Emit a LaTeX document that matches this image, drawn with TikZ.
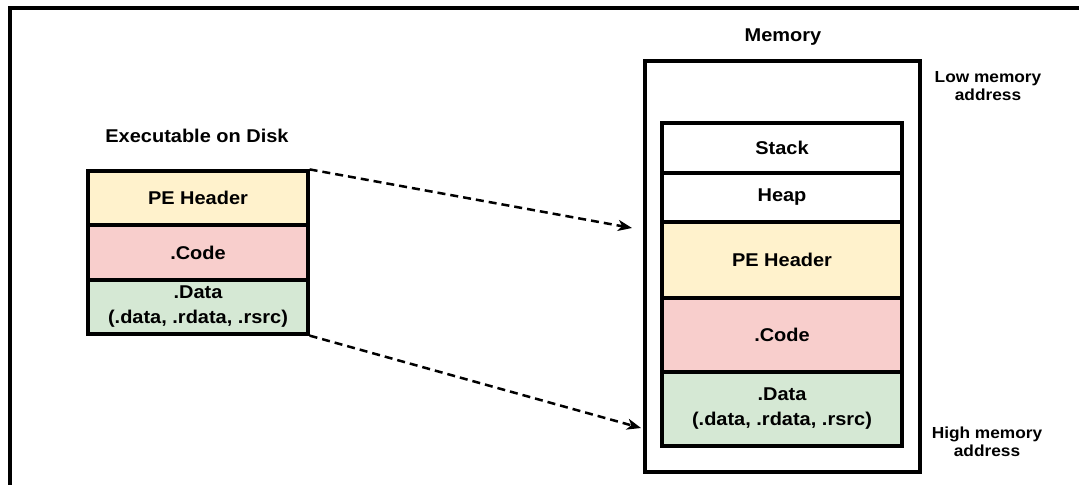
\documentclass[tikz,border=0pt]{standalone}
\usepackage{fontspec}
\setmainfont{Liberation Sans}[FakeStretch=1.08]
\usetikzlibrary{arrows.meta}
\definecolor{peyellow}{HTML}{FFF2CC}
\definecolor{codered}{HTML}{F8CECC}
\definecolor{datagreen}{HTML}{D5E8D4}
\tikzset{
  seg/.style={draw=black, line width=3.2pt, rectangle, inner sep=0pt,
    font=\fontsize{18.5}{25}\selectfont\bfseries, align=center},
  titletxt/.style={font=\fontsize{18.5}{25}\selectfont\bfseries, align=center},
  sidetxt/.style={font=\fontsize{16}{18.5}\selectfont\bfseries, align=center},
  dasharrow/.style={line width=2.5pt, dash pattern=on 8pt off 5pt,
    -{Stealth[length=14pt,width=11pt,inset=4pt]}}
}
\begin{document}
\begin{tikzpicture}[x=1pt,y=-1pt]
\useasboundingbox (0,0) rectangle (1079,485);
% cropped outer frame
\draw[line width=3.5pt] (1079,8) -- (10,8) -- (10,485);

% left: executable on disk
\node[titletxt] (disktitle) at (197,136) {Executable on Disk};
\node[seg, fill=peyellow, minimum width=220pt, minimum height=54pt] (dpe) at (198,198) {PE Header};
\node[seg, fill=codered, minimum width=220pt, minimum height=55pt] (dcode) at (198,252.5) {.Code};
\node[seg, fill=datagreen, minimum width=220pt, minimum height=54pt] (ddata) at (198,307) {.Data\\(.data, .rdata, .rsrc)};

% right: memory
\node[titletxt] (memtitle) at (783,37) {Memory};
\node[seg, minimum width=275pt, minimum height=411pt] (mem) at (782.5,266.5) {};
\node[seg, fill=white, minimum width=240pt, minimum height=50pt] (mstack) at (782,148) {Stack};
\node[seg, fill=white, minimum width=240pt, minimum height=49pt] (mheap) at (782,197.5) {Heap};
\node[seg, fill=peyellow, minimum width=240pt, minimum height=76pt] (mpe) at (782,260) {PE Header};
\node[seg, fill=codered, minimum width=240pt, minimum height=74pt] (mcode) at (782,335) {.Code};
\node[seg, fill=datagreen, minimum width=240pt, minimum height=74pt] (mdata) at (782,409) {.Data\\(.data, .rdata, .rsrc)};

\node[sidetxt] (lowaddr) at (988,86) {Low memory\\address};
\node[sidetxt] (highaddr) at (987,442) {High memory\\address};

% arrows
\coordinate (tip1) at (632,228);
\coordinate (tip2) at (641,428);
\draw[dasharrow] (dpe.north east) -- (tip1);
\draw[dasharrow] (ddata.south east) -- (tip2);
\end{tikzpicture}
\end{document}
